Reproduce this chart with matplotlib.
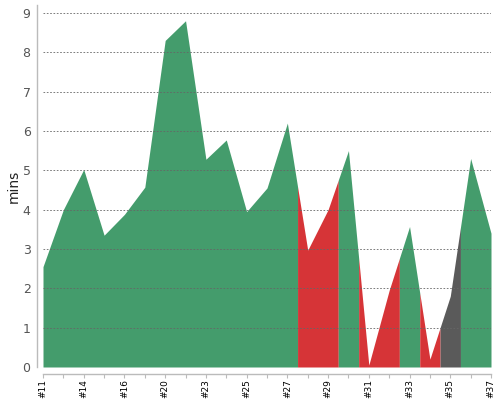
import numpy as np
import matplotlib
matplotlib.use("Agg")
import matplotlib.pyplot as plt

labels = ['#11', '#12', '#14', '#15', '#16', '#18', '#20', '#22', '#23', '#24', '#25', '#26',
          '#27', '#28', '#29', '#30', '#31', '#32', '#33', '#34', '#35', '#36', '#37']
values = [2.55, 4.0, 5.02, 3.35, 3.88, 4.57, 8.3, 8.8, 5.28, 5.77, 3.95, 4.55,
          6.2, 2.97, 4.0, 5.5, 0.05, 1.95, 3.57, 0.2, 1.8, 5.3, 3.4]
status = ['ok'] * 13 + ['fail', 'fail', 'ok', 'fail', 'fail', 'ok', 'fail', 'skip', 'ok', 'ok']

colors = {'ok': '#449c6c', 'fail': '#d63437', 'skip': '#5a5a5a'}

fig = plt.figure(figsize=(5, 4), dpi=100)
ax = fig.add_axes([43 / 500, 33 / 400, 448 / 500, 362 / 400])

n = len(values)
xs = np.arange(n)
vals = np.array(values)

# group consecutive runs of same status
runs = []
start = 0
for i in range(1, n + 1):
    if i == n or status[i] != status[start]:
        runs.append((start, i - 1, status[start]))
        start = i

for a, b, st in runs:
    x0 = max(a - 0.5, 0)
    x1 = min(b + 0.5, n - 1)
    xx = [x0] + [k for k in range(a, b + 1) if x0 < k < x1] + [x1]
    xx = np.array(xx, dtype=float)
    yy = np.interp(xx, xs, vals)
    ax.fill_between(xx, 0, yy, color=colors[st], linewidth=0, zorder=2)

ax.set_xlim(0, n - 1)
ax.set_ylim(0, 9.2)
ax.set_yticks(range(0, 10))
ax.yaxis.grid(True, linestyle=(0, (2, 2)), color='#666666', linewidth=0.6, zorder=3)
ax.set_axisbelow(False)

ax.set_xticks(xs)
ax.set_xticklabels([l if i % 2 == 0 else '' for i, l in enumerate(labels)])

for s in ['top', 'right']:
    ax.spines[s].set_visible(False)
ax.spines['left'].set_position(('outward', 4))
ax.spines['bottom'].set_position(('outward', 5))
for s in ['left', 'bottom']:
    ax.spines[s].set_color('#bbbbbb')
    ax.spines[s].set_linewidth(1.0)

ax.tick_params(axis='y', length=0, pad=5, labelsize=9, labelcolor='#555555')
ax.tick_params(axis='x', length=3, width=0.8, color='#bbbbbb', pad=1,
               labelrotation=90, labelsize=6.5, labelcolor='black')

fig.text(13.5 / 500, 1 - 186 / 400, 'mins', rotation=90, ha='center', va='center',
         fontsize=10, color='#222222')

fig.savefig('out.png', dpi=100)
